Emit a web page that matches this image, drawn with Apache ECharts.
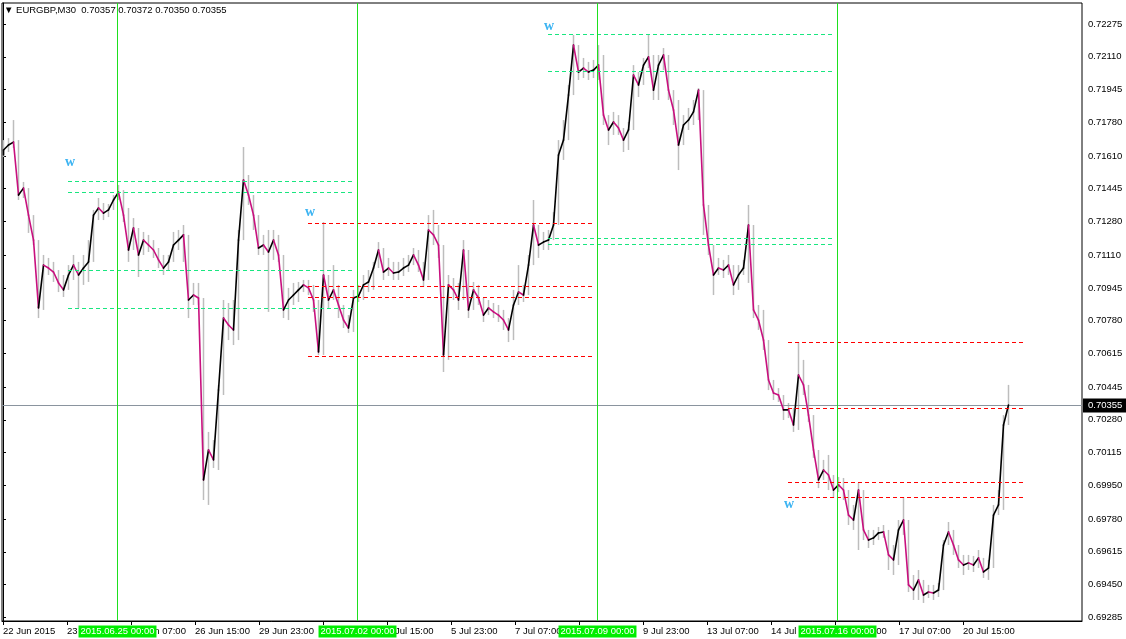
<!DOCTYPE html>
<html>
<head>
<meta charset="utf-8">
<script src="https://cdn.jsdelivr.net/npm/echarts@6/dist/echarts.min.js"></script>
<style>
html,body{margin:0;padding:0;background:#fff;}
#chart{width:1126px;height:639px;}
</style>
</head>
<body>
<div id="chart"></div>
<script>
// ---- data (EURGBP M30, sampled every 5 bars) ----
const firstOpen = 0.71615;
const closes = [
0.71640,0.71665,0.71680,0.71413,0.71448,0.71312,0.71186,0.70844,0.71060,0.71045,
0.71025,0.70970,0.70935,0.71010,0.71060,0.71010,0.71045,0.71076,0.71312,0.71348,
0.71322,0.71338,0.71388,0.71428,0.71312,0.71136,0.71247,0.71111,0.71186,0.71161,
0.71136,0.71086,0.71045,0.71076,0.71161,0.71186,0.71212,0.70884,0.70909,0.70894,
0.69977,0.70128,0.70078,0.70430,0.70793,0.70758,0.70733,0.71186,0.71489,0.71413,
0.71312,0.71146,0.71161,0.71126,0.71186,0.71111,0.70834,0.70884,0.70909,0.70935,
0.70960,0.70945,0.70884,0.70622,0.71010,0.70884,0.70935,0.70859,0.70783,0.70743,
0.70894,0.70904,0.70960,0.70975,0.71045,0.71136,0.71025,0.71045,0.71020,0.71025,
0.71045,0.71060,0.71111,0.71060,0.70985,0.71237,0.71212,0.71161,0.70607,0.70960,
0.70935,0.70884,0.71136,0.70834,0.70935,0.70894,0.70808,0.70844,0.70824,0.70808,
0.70783,0.70733,0.70859,0.70924,0.70909,0.71060,0.71262,0.71161,0.71176,0.71186,
0.71262,0.71615,0.71690,0.71917,0.72169,0.72033,0.72053,0.72033,0.72043,0.72068,
0.71816,0.71741,0.71781,0.71751,0.71690,0.71741,0.72018,0.71968,0.72068,0.72109,
0.71942,0.72068,0.72119,0.71942,0.71842,0.71665,0.71766,0.71791,0.71832,0.71942,
0.71363,0.71161,0.71010,0.71045,0.71035,0.71060,0.70960,0.71010,0.71045,0.71262,
0.70834,0.70783,0.70682,0.70481,0.70415,0.70405,0.70330,0.70330,0.70254,0.70506,
0.70456,0.70304,0.70128,0.69977,0.70027,0.70002,0.69926,0.69952,0.69926,0.69800,
0.69775,0.69926,0.69725,0.69674,0.69685,0.69710,0.69715,0.69599,0.69574,0.69725,
0.69775,0.69448,0.69422,0.69473,0.69397,0.69412,0.69407,0.69422,0.69649,0.69715,
0.69649,0.69574,0.69548,0.69559,0.69548,0.69584,0.69513,0.69533,0.69800,0.69851,
0.70254,0.70355
];
const highs = [
0.71690,0.71700,0.71791,0.71690,0.71479,0.71388,0.71262,0.71101,0.71111,0.71096,
0.71076,0.71035,0.71010,0.71060,0.71111,0.71076,0.71111,0.71186,0.71338,0.71398,
0.71373,0.71368,0.71413,0.71464,0.71438,0.71348,0.71297,0.71237,0.71227,0.71212,
0.71186,0.71146,0.71111,0.71111,0.71227,0.71237,0.71262,0.71111,0.70970,0.70970,
0.70884,0.70219,0.70178,0.70456,0.70884,0.70869,0.70884,0.71237,0.71655,0.71514,
0.71413,0.71287,0.71212,0.71237,0.71237,0.71212,0.71111,0.70945,0.70970,0.70975,
0.70985,0.70985,0.70960,0.70884,0.71277,0.71010,0.71060,0.70960,0.70834,0.70808,
0.70935,0.70960,0.71010,0.71035,0.71076,0.71176,0.71146,0.71096,0.71076,0.71076,
0.71096,0.71111,0.71146,0.71136,0.71076,0.71312,0.71338,0.71262,0.71161,0.71010,
0.70995,0.70970,0.71186,0.71111,0.70975,0.70960,0.70884,0.70884,0.70869,0.70859,
0.70834,0.70793,0.70935,0.71060,0.70960,0.71111,0.71388,0.71237,0.71227,0.71237,
0.71327,0.71690,0.71791,0.71968,0.72220,0.72144,0.72104,0.72084,0.72094,0.72169,
0.72119,0.71801,0.71832,0.71816,0.71741,0.71781,0.72068,0.72033,0.72104,0.72220,
0.72119,0.72119,0.72154,0.72084,0.71917,0.71892,0.71816,0.71852,0.71892,0.71952,
0.71917,0.71338,0.71111,0.71096,0.71086,0.71111,0.71035,0.71060,0.71086,0.71363,
0.71262,0.70859,0.70834,0.70682,0.70456,0.70440,0.70405,0.70365,0.70340,0.70672,
0.70582,0.70380,0.70229,0.70062,0.70078,0.70103,0.69987,0.69992,0.69987,0.69901,
0.69851,0.69962,0.69926,0.69725,0.69725,0.69740,0.69750,0.69725,0.69649,0.69775,
0.69891,0.69750,0.69498,0.69523,0.69448,0.69448,0.69448,0.69458,0.69674,0.69765,
0.69725,0.69634,0.69599,0.69599,0.69594,0.69624,0.69574,0.69574,0.69851,0.69926,
0.70304,0.70456
];
const lows = [
0.71605,0.71630,0.71650,0.71388,0.71398,0.71222,0.71161,0.70793,0.70834,0.71010,
0.70975,0.70924,0.70899,0.70960,0.70985,0.70844,0.70960,0.70975,0.71186,0.71287,
0.71287,0.71302,0.71338,0.71388,0.71277,0.71076,0.71161,0.71000,0.71146,0.71126,
0.71096,0.71045,0.71010,0.71035,0.71076,0.71136,0.71076,0.70793,0.70859,0.70859,
0.69876,0.69851,0.70037,0.70027,0.70405,0.70682,0.70657,0.70682,0.71212,0.71363,
0.71237,0.71111,0.71111,0.70824,0.71086,0.71076,0.70793,0.70783,0.70859,0.70874,
0.70924,0.70909,0.70824,0.70607,0.70607,0.70844,0.70894,0.70793,0.70743,0.70718,
0.70723,0.70874,0.70884,0.70924,0.70935,0.71076,0.70985,0.71005,0.70985,0.70985,
0.71005,0.71025,0.71060,0.71025,0.70950,0.71086,0.71161,0.71096,0.70521,0.70582,
0.70884,0.70834,0.71076,0.70793,0.70884,0.70859,0.70773,0.70808,0.70793,0.70773,
0.70733,0.70672,0.70682,0.70859,0.70874,0.70960,0.71086,0.71096,0.71136,0.71136,
0.71186,0.71363,0.71590,0.71741,0.71993,0.71993,0.72003,0.71993,0.72003,0.71993,
0.71766,0.71665,0.71716,0.71716,0.71630,0.71640,0.71741,0.71907,0.71993,0.72053,
0.71892,0.71892,0.72043,0.71892,0.71766,0.71539,0.71716,0.71741,0.71766,0.71791,
0.71212,0.71111,0.70909,0.71010,0.70995,0.71010,0.70909,0.70935,0.71010,0.70970,
0.70793,0.70733,0.70632,0.70430,0.70380,0.70370,0.70279,0.70289,0.70219,0.70229,
0.70405,0.70269,0.70088,0.69936,0.69987,0.69926,0.69886,0.69916,0.69876,0.69750,
0.69725,0.69624,0.69674,0.69634,0.69649,0.69674,0.69685,0.69523,0.69498,0.69548,
0.69700,0.69412,0.69372,0.69372,0.69357,0.69382,0.69372,0.69387,0.69473,0.69649,
0.69599,0.69533,0.69498,0.69523,0.69513,0.69533,0.69483,0.69473,0.69624,0.69800,
0.69826,0.70254
];

// price scale labels
const yTickValues = [0.72275,0.72110,0.71945,0.71780,0.71610,0.71445,0.71280,0.71110,0.70945,
  0.70780,0.70615,0.70445,0.70280,0.70115,0.69950,0.69780,0.69615,0.69450,0.69285];
// time scale labels (bar index from first bar)
const xTickBars = [0,64,128,192,256,320,384,448,512,576,640,704,768,832,896,960];
const xTickLabels = ['22 Jun 2015','23 Jun 23:00','25 Jun 07:00','26 Jun 15:00','29 Jun 23:00',
  '1 Jul 07:00','2 Jul 15:00','5 Jul 23:00','7 Jul 07:00','8 Jul 15:00','9 Jul 23:00',
  '13 Jul 07:00','14 Jul 15:00','15 Jul 23:00','17 Jul 07:00','20 Jul 15:00'];

// vertical line objects
const markerBars = [114, 354, 594, 834];
const markerLabels = ['2015.06.25 00:00','2015.07.02 00:00','2015.07.09 00:00','2015.07.16 00:00'];

// horizontal level objects
const levelPrice = [0.71484,0.71428,0.71035,0.70844, 0.71272,0.70955,0.70899,0.70602,
  0.72225,0.72038,0.71196,0.71166, 0.70672,0.70340,0.69967,0.69891];
const levelFromBar = [65,65,65,65, 305,305,305,305, 545,545,545,545, 785,785,785,785];
const levelToBar = [352,352,352,352, 592,592,592,592, 832,832,832,832, 1023,1023,1023,1023];
const levelKind = ['g','g','g','g','r','r','r','r','g','g','g','g','r','r','r','r'];

// text objects
const noteBars = [67, 307, 546, 786];
const notePrices = [0.71580, 0.71328, 0.72265, 0.69856];
const noteText = ['w','w','w','w'];

const symbolName = 'EURGBP,M30';
const lastBar = [0.70357, 0.70372, 0.70350, 0.70355];
const bidPrice = 0.70355;

// ---- styles ----
const FONT = '"Liberation Sans", Arial, sans-serif';
const MAGENTA = '#c8107e';
const WICK = '#bdbdbd';
const GREEN_DASH = '#19e680';
const RED_DASH = '#ff0000';
const SEP_GREEN = '#1ee01e';

const candleData = closes.map((c, i) => [i, i === 0 ? firstOpen : closes[i - 1], c, lows[i], highs[i]]);

const chart = echarts.init(document.getElementById('chart'), null, {renderer: 'canvas'});

chart.setOption({
  animation: false,
  backgroundColor: '#fff',
  title: {
    text: '\u25BC ' + symbolName + '  ' + lastBar.map(v => v.toFixed(5)).join(' '),
    left: 4, top: 5, padding: 0,
    textStyle: {fontFamily: FONT, fontSize: 9.5, fontWeight: 'normal', color: '#000'}
  },
  grid: {left: 2, right: 44, top: 3, bottom: 18, show: true, borderColor: '#000', borderWidth: 1, backgroundColor: '#fff'},
  xAxis: [
    {type: 'value', show: false, min: -0.2, max: 215.8},
    {type: 'value', min: -1, max: 1079, position: 'bottom',
      axisLine: {show: true, lineStyle: {color: '#000', width: 1}},
      axisTick: {show: true, length: 4, customValues: xTickBars, lineStyle: {color: '#000'}},
      axisLabel: {customValues: xTickBars, align: 'left', margin: 5, color: '#000',
        fontFamily: FONT, fontSize: 9.5,
        formatter: v => { const k = xTickBars.indexOf(v); return k >= 0 ? xTickLabels[k] : ''; }},
      splitLine: {show: false}}
  ],
  yAxis: {
    type: 'value', position: 'right', min: 0.69266, max: 0.72381, scale: true,
    axisLine: {show: true, lineStyle: {color: '#000', width: 1}},
    axisTick: {show: true, length: 3, customValues: yTickValues, lineStyle: {color: '#000'}},
    axisLabel: {customValues: yTickValues, margin: 6, color: '#000', fontFamily: FONT, fontSize: 9.5,
      formatter: v => v.toFixed(5)},
    splitLine: {show: false}
  },
  series: [
    {
      type: 'custom', name: 'wicks', xAxisIndex: 0, yAxisIndex: 0, data: candleData, z: 2,
      renderItem: (params, api) => {
        const i = api.value(0), o = api.value(1), c = api.value(2), l = api.value(3), h = api.value(4);
        const hi = Math.max(h, o, c), lo = Math.min(l, o, c);
        const pH = api.coord([i, hi]), pL = api.coord([i, lo]);
        const x = Math.round(pH[0]) + 0.5;
        return {type: 'line', shape: {x1: x, y1: pH[1], x2: x, y2: pL[1]}, style: {stroke: WICK, lineWidth: 1.5}};
      }
    },
    {
      type: 'custom', name: 'price', xAxisIndex: 0, yAxisIndex: 0, data: candleData, z: 3,
      renderItem: (params, api) => {
        const i = api.value(0), o = api.value(1), c = api.value(2);
        const col = c >= o ? '#000' : MAGENTA;
        const pC = api.coord([i, c]);
        const pO = i > 0 ? api.coord([i - 1, o]) : api.coord([i, o]);
        return {type: 'line', shape: {x1: pO[0] + 0.5, y1: pO[1], x2: pC[0] + 0.5, y2: pC[1]},
          style: {stroke: col, lineWidth: 1.6, lineCap: 'round'}};
      }
    },
    {
      type: 'custom', name: 'levels', xAxisIndex: 1, yAxisIndex: 0, z: 4,
      data: levelPrice.map((p, i) => [levelFromBar[i], levelToBar[i], p, i]),
      renderItem: (params, api) => {
        const a = api.coord([api.value(0), api.value(2)]);
        const b = api.coord([api.value(1), api.value(2)]);
        const k = api.value(3);
        const y = Math.round(a[1]) + 0.5;
        return {type: 'line', shape: {x1: a[0], y1: y, x2: b[0], y2: y},
          style: {stroke: levelKind[k] === 'g' ? GREEN_DASH : RED_DASH, lineWidth: 1, lineDash: [4, 3]}};
      }
    },
    {
      type: 'custom', name: 'bid', xAxisIndex: 1, yAxisIndex: 0, z: 2, clip: false,
      data: [[0, bidPrice]],
      renderItem: (params, api) => {
        const cs = params.coordSys;
        const p = api.coord([0, api.value(1)]);
        const y = Math.round(p[1]) + 0.5;
        return {type: 'group', children: [
          {type: 'line', shape: {x1: cs.x, y1: y, x2: cs.x + cs.width, y2: y}, style: {stroke: '#8a949e', lineWidth: 1}},
          {type: 'text', z2: 10, style: {text: api.value(1).toFixed(5), x: cs.x + cs.width + 1, y: y,
            align: 'left', verticalAlign: 'middle', fill: '#fff', backgroundColor: '#000',
            padding: [2, 5, 2, 5], font: '9.5px ' + FONT}}
        ]};
      }
    },
    {
      type: 'custom', name: 'separators', xAxisIndex: 1, yAxisIndex: 0, z: 5, clip: false,
      data: markerBars.map((b, i) => [b, i]),
      renderItem: (params, api) => {
        const cs = params.coordSys;
        const x = Math.round(api.coord([api.value(0), 0.7])[0]) + 0.5;
        const k = api.value(1);
        return {type: 'group', children: [
          {type: 'line', shape: {x1: x, y1: cs.y, x2: x, y2: cs.y + cs.height}, style: {stroke: SEP_GREEN, lineWidth: 1}},
          {type: 'text', z2: 10, style: {text: markerLabels[k], x: x, y: cs.y + cs.height + 10.5,
            align: 'center', verticalAlign: 'middle', fill: '#fff', backgroundColor: '#00ee00',
            padding: [1, 2, 1, 2], font: '9.5px ' + FONT}}
        ]};
      }
    },
    {
      type: 'custom', name: 'notes', xAxisIndex: 1, yAxisIndex: 0, z: 6,
      data: noteBars.map((b, i) => [b, notePrices[i], i]),
      renderItem: (params, api) => {
        const p = api.coord([api.value(0), api.value(1)]);
        return {type: 'text', style: {text: noteText[api.value(2)], x: p[0], y: p[1], align: 'center',
          verticalAlign: 'middle', fill: '#3db4f2', font: 'bold 14px "Liberation Serif", serif'}};
      }
    }
  ]
});
</script>
</body>
</html>
